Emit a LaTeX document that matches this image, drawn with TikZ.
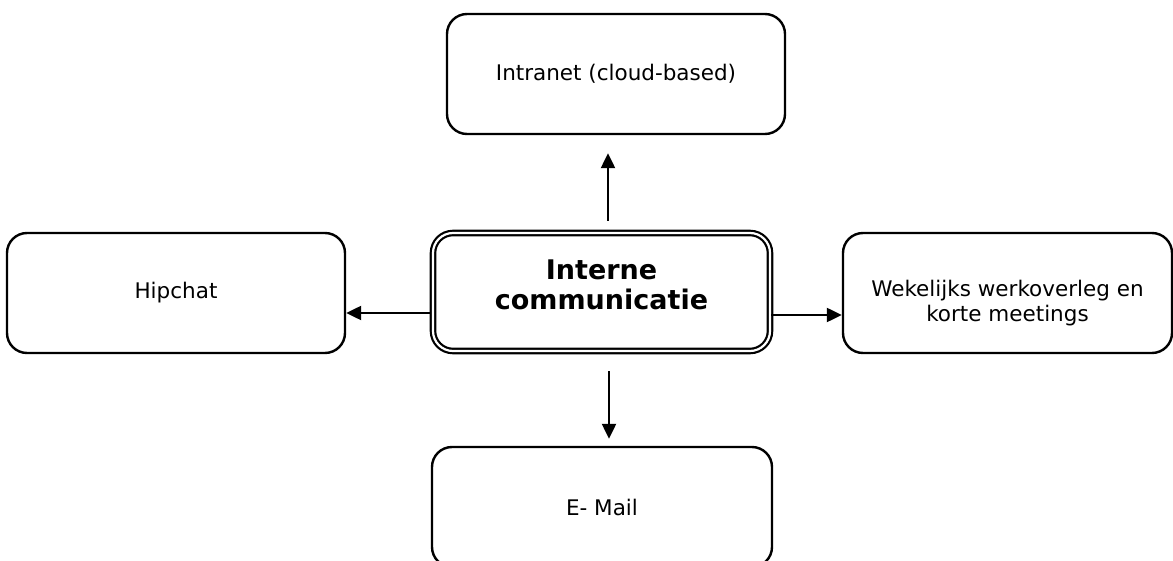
\documentclass[tikz,border=0pt]{standalone}
\usepackage{fontspec}
\setmainfont{DejaVu Sans}
\usetikzlibrary{arrows.meta,calc}
\begin{document}
\begin{tikzpicture}[x=1pt,y=-1pt,
  box/.style={draw=black, line width=2.4pt, rounded corners=20pt, align=center,
    font=\fontsize{21.5}{24.5}\selectfont, inner sep=0pt},
  mainbox/.style={draw=black, double=white, double distance=2.2pt, line width=2.2pt,
    rounded corners=20pt, align=center, font=\fontsize{27}{30}\selectfont\bfseries, inner sep=0pt},
  arr/.style={line width=2.3pt, -{Triangle[length=15pt,width=14pt]}}]
\useasboundingbox (0,0) rectangle (1173,561);
\clip (0,0) rectangle (1173,561);
\node[box, minimum width=338pt, minimum height=120pt] (intr) at (616,74) {Intranet (cloud-based)};
\node[box, minimum width=338pt, minimum height=120pt] (hip) at (176,293) {Hipchat};
\node[box, minimum width=329pt, minimum height=120pt] (wek) at (1007.5,293) {\rule{0pt}{36pt}Wekelijks werkoverleg en\\korte meetings};
\node[mainbox, minimum width=337pt, minimum height=118pt] (c) at (601.5,292) {Interne\\communicatie\rule[-14pt]{0pt}{1pt}};
\node[box, minimum width=340pt, minimum height=120pt] (mail) at (602,507) {E- Mail};
\draw[arr] ($(c.north)+(6.5,-11)$) -- ($(c.north |- intr.south)+(6.5,18)$);
\draw[arr] ($(c.south)+(7.5,19)$) -- ($(c.south |- mail.north)+(7.5,-7)$);
\draw[arr] ($(c.west)+(-1,21)$) -- ($(c.west -| hip.east)+(0,21)$);
\draw[arr] ($(c.east)+(0,23)$) -- ($(c.east -| wek.west)+(0,23)$);
\end{tikzpicture}
\end{document}
